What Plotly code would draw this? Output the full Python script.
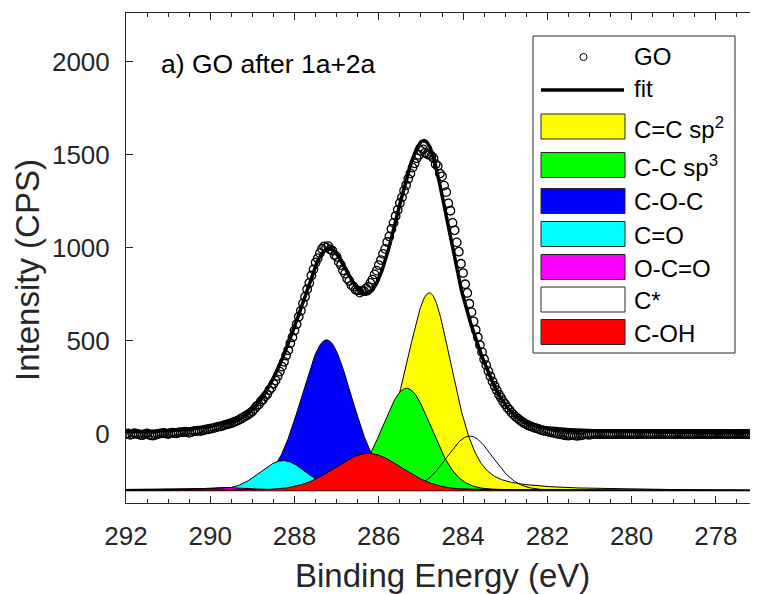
import numpy as np
import plotly.graph_objects as go

# ---------------- data ----------------
# measured GO spectrum (CPS), 0.05 eV spacing, in three blocks
go_y_hi = [0, 3, -5, -2, 4, 1, -2, -6, -6, -1,
           3, -4, -8, -9, -4, 0, 2, 4, 6, 2,
           0, 4, 7, 5, 3, 8, 10, 9, 12, 10,
           6, 10, 14, 15, 18, 16, 17, 21, 24, 25,
           28, 30, 33, 37, 40, 41, 44, 49, 52, 55,
           58, 63, 68, 72, 78, 85, 92, 98, 105, 113, 122]              # 292.00 .. 289.00
go_y_mid = [135, 150, 158, 175, 185, 202, 214, 235, 248, 270, 288, 312, 335, 362, 388, 422, 450, 488, 520, 556,
            590, 630, 662, 702, 738, 778, 812, 852, 885, 922, 945, 972, 995, 1008, 1002, 1010, 992, 985, 962, 952,
            925, 908, 880, 862, 835, 822, 800, 792, 775, 772, 760, 770, 768, 782, 790, 812, 830, 858, 878, 908,
            935, 968, 995, 1032, 1062, 1102, 1135, 1172, 1205, 1242, 1272, 1308, 1338, 1372, 1400, 1432, 1455, 1482, 1500, 1522,
            1530, 1512, 1505, 1500, 1495, 1482, 1450, 1440, 1400, 1385, 1335, 1300, 1240, 1200, 1135, 1095, 1030, 980, 915, 865,
            805, 758, 700, 655, 605, 560, 520, 478, 440, 402, 370, 338, 310, 282, 258, 235, 212, 195, 175, 160,
            142, 130, 115, 104, 92, 84, 74, 66, 58, 52]                  # 288.95 .. 282.50
go_y_lo = [46, 42, 37, 33, 30, 26, 21, 18, 16, 14, 10, 8, 6, 4, 1, 0,
           -3, -6, -8, -9, -7, -4, -8, -10, -9, -7, -4, -2, -3, -4, -2, 0] + [0] * 78  # 282.45 .. 277.00

# fitted components (pseudo-Voigt parameters;
# low-BE and high-BE half of each peak)
comp_names = ["C=C sp<sup>2</sup>", "C-C sp<sup>3</sup>", "C-O-C", "C=O", "O-C=O", "C*", "C-OH"]
comp_center = [284.80, 285.34, 287.24, 288.27, 289.72, 283.84, 286.25]
comp_height = [1063, 550, 810, 161, 16, 293, 200]
comp_fwhm = [1.30, 1.40, 1.45, 1.30, 1.30, 1.30, 1.90]
comp_fwhm_hbe = [1.40, 1.40, 1.45, 1.30, 1.30, 1.30, 1.90]
comp_lfrac = [0.40, 0.10, 0.20, 0.10, 0.10, 0.10, 0.10]
comp_lfrac_hbe = [0.60, 0.10, 0.20, 0.10, 0.10, 0.10, 0.10]
comp_colors = ["#FFFF00", "#00FF00", "#0000FF", "#00FFFF", "#FF00FF", None, "#FF0000"]
comp_offset = -304      # components are drawn shifted below the spectrum

x_ticks = [292, 290, 288, 286, 284, 282, 280, 278]
y_ticks = [0, 500, 1000, 1500, 2000]

# ---------------- build ----------------
e_hi = np.round(292.0 - 0.05 * np.arange(len(go_y_hi)), 2)
e_mid = np.round(288.95 - 0.05 * np.arange(len(go_y_mid)), 2)
e_lo = np.round(282.45 - 0.05 * np.arange(len(go_y_lo)), 2)
go_e = np.concatenate([e_hi, e_mid, e_lo])
go_y = np.array(go_y_hi + go_y_mid + go_y_lo, dtype=float)

grid = np.linspace(292, 277, 1501)


def profile(c, h, w_lo, w_hi, m_lo, m_hi):
    w = np.where(grid > c, w_hi, w_lo)
    m = np.where(grid > c, m_hi, m_lo)
    d2 = (grid - c) ** 2
    g = np.exp(-4 * np.log(2) * d2 / w ** 2)
    lz = 1.0 / (1 + 4 * d2 / w ** 2)
    return h * ((1 - m) * g + m * lz)


profiles = [profile(*args) for args in zip(comp_center, comp_height, comp_fwhm, comp_fwhm_hbe,
                                           comp_lfrac, comp_lfrac_hbe)]
fit = np.sum(profiles, axis=0)

FONT = "Liberation Sans, Arial, Helvetica, sans-serif"
AX = "#262626"

fig = go.Figure()
fig.add_trace(go.Scatter(x=go_e, y=go_y, mode="markers",
                         marker=dict(symbol="circle-open", size=8.5, color="black",
                                     line=dict(width=1.3, color="black")),
                         showlegend=False))
fig.add_trace(go.Scatter(x=grid, y=fit, mode="lines", line=dict(color="black", width=3.5), showlegend=False))

# baseline of the components
fig.add_trace(go.Scatter(x=[grid[0], grid[-1]], y=[comp_offset, comp_offset], mode="lines",
                         line=dict(color="black", width=1.5), showlegend=False))

for p, col in zip(profiles, comp_colors):
    yv = p + comp_offset
    if col is None:
        fig.add_trace(go.Scatter(x=grid, y=yv, mode="lines", line=dict(color="black", width=1), showlegend=False))
    else:
        xs = np.concatenate([[grid[0]], grid, [grid[-1]]])
        ys = np.concatenate([[comp_offset], yv, [comp_offset]])
        fig.add_trace(go.Scatter(x=xs, y=ys, mode="lines", fill="toself", fillcolor=col,
                                 line=dict(color="black", width=1), showlegend=False))

# ---------------- layout helpers (window pixel -> paper) ----------------
OFF = 8                       # page body margin of the html page
W, H = 758 - OFF, 594 - OFF
L, R, T, B = 126 - OFF, 0, 13 - OFF, 594 - 503
PW, PH = W - L - R, H - T - B


def px(x):
    return (x - OFF - L) / PW


def py(y):
    return (H - B - (y - OFF)) / PH


shapes = []
annots = []

# legend box
shapes.append(dict(type="rect", xref="paper", yref="paper", x0=px(533), x1=px(735), y0=py(353), y1=py(36),
                   line=dict(color=AX, width=1), fillcolor="white", layer="above"))
shapes.append(dict(type="circle", xref="paper", yref="paper", x0=px(580), x1=px(587), y0=py(60.5), y1=py(53.5),
                   line=dict(color="black", width=1), layer="above"))
shapes.append(dict(type="line", xref="paper", yref="paper", x0=px(541), x1=px(624), y0=py(90), y1=py(90),
                   line=dict(color="black", width=3.5), layer="above"))
annots.append(dict(text="GO", x=px(632), y=py(57), xref="paper", yref="paper", xanchor="left", yanchor="middle",
                   showarrow=False, font=dict(size=24, color="black", family=FONT)))
annots.append(dict(text="fit", x=px(632), y=py(89), xref="paper", yref="paper", xanchor="left", yanchor="middle",
                   showarrow=False, font=dict(size=24, color="black", family=FONT)))

patch_top = [114, 152.5, 188.5, 221.5, 254.5, 287, 319.5]
patch_h = 25
for name, col, tp in zip(comp_names, comp_colors, patch_top):
    shapes.append(dict(type="rect", xref="paper", yref="paper", x0=px(541), x1=px(625), y0=py(tp + patch_h), y1=py(tp),
                       line=dict(color=AX, width=1), fillcolor=col if col else "white", layer="above"))
    annots.append(dict(text=name, x=px(632), y=py(tp + patch_h / 2 + 1), xref="paper", yref="paper",
                       xanchor="left", yanchor="middle", showarrow=False,
                       font=dict(size=24, color="black", family=FONT)))

# panel label
annots.append(dict(text="a) GO after 1a+2a", x=px(159), y=py(64), xref="paper", yref="paper", xanchor="left",
                   yanchor="middle", showarrow=False, font=dict(size=26.5, color="black", family=FONT)))
# axis titles
annots.append(dict(text="Binding Energy (eV)", x=px(442), y=py(575), xref="paper", yref="paper", xanchor="center",
                   yanchor="middle", showarrow=False, font=dict(size=33, color=AX, family=FONT)))
annots.append(dict(text="Intensity (CPS)", x=px(27), y=py(270), xref="paper", yref="paper", xanchor="center",
                   yanchor="middle", textangle=-90, showarrow=False, font=dict(size=33, color=AX, family=FONT)))

fig.update_layout(
    width=W, height=H, margin=dict(l=L, r=R, t=T, b=B, pad=0),
    paper_bgcolor="white", plot_bgcolor="white", showlegend=False,
    font=dict(family=FONT, color=AX),
    shapes=shapes, annotations=annots,
    xaxis=dict(range=[292, 277], tickvals=x_ticks, ticktext=[str(v) for v in x_ticks],
               ticks="inside", ticklen=7, tickwidth=1, tickcolor=AX,
               showline=True, linecolor=AX, linewidth=1, mirror="ticks",
               minor=dict(dtick=0.5, tick0=292, ticks="inside", ticklen=4, tickwidth=1, tickcolor=AX, showgrid=False),
               showgrid=False, zeroline=False, tickfont=dict(size=26, color=AX, family=FONT),
               ticklabelstandoff=10),
    yaxis=dict(range=[-371, 2263], tickvals=y_ticks, ticktext=[str(v) for v in y_ticks],
               ticks="inside", ticklen=7, tickwidth=1, tickcolor=AX,
               showline=True, linecolor=AX, linewidth=1, mirror=False,
               showgrid=False, zeroline=False, tickfont=dict(size=26, color=AX, family=FONT),
               ticklabelstandoff=10),
)

fig.write_html("out.html")
